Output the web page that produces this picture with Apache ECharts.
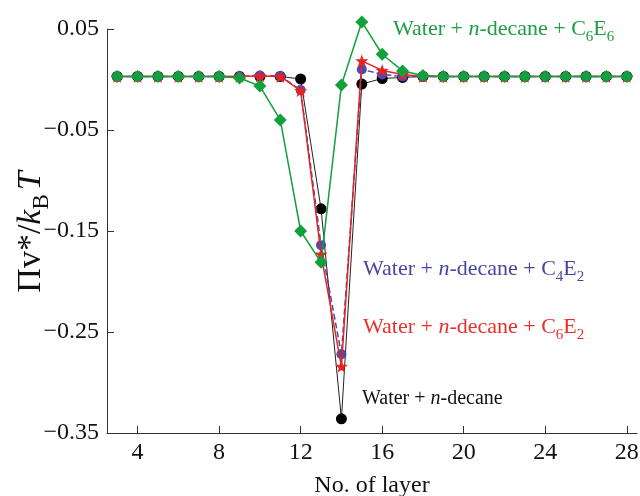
<!DOCTYPE html>
<html><head><meta charset="utf-8">
<script src="https://cdn.jsdelivr.net/npm/echarts@6/dist/echarts.min.js"></script>
<style>html,body{margin:0;padding:0;background:#fff}#c{width:640px;height:496px}</style>
</head><body><div id="c"></div>
<script>
const layers = [3,4,5,6,7,8,9,10,11,12,13,14,15,16,17,18,19,20,21,22,23,24,25,26,27,28];
const waterDecane = [0.003,0.003,0.003,0.003,0.003,0.003,0.003,0.003,0.003,0.0005,-0.128,-0.336,-0.0045,0.001,0.002,0.003,0.003,0.003,0.003,0.003,0.003,0.003,0.003,0.003,0.003,0.003];
const c4e2 = [0.003,0.003,0.003,0.003,0.003,0.003,0.003,0.004,0.0035,-0.0105,-0.164,-0.272,0.010,0.005,0.003,0.003,0.003,0.003,0.003,0.003,0.003,0.003,0.003,0.003,0.003,0.003];
const c6e2 = [0.003,0.003,0.003,0.003,0.003,0.003,0.003,0.0035,0.003,-0.011,-0.173,-0.284,0.0185,0.009,0.005,0.003,0.003,0.003,0.003,0.003,0.003,0.003,0.003,0.003,0.003,0.003];
const c6e6 = [0.003,0.003,0.003,0.003,0.003,0.003,0.0015,-0.0065,-0.040,-0.150,-0.181,-0.0055,0.057,0.025,0.0085,0.004,0.003,0.003,0.003,0.003,0.003,0.003,0.003,0.003,0.003,0.003];
const xTicks = [4,8,12,16,20,24,28];

const serif = '"Liberation Serif","DejaVu Serif",serif';
const pair = (arr) => layers.map((l,i)=>[l,arr[i]]);
const richFor = (color, size) => ({
  r: {fontFamily: serif, fontSize: size, fill: color, lineHeight: size+10, verticalAlign: 'middle'},
  i: {fontFamily: serif, fontSize: size, fill: color, fontStyle: 'italic', lineHeight: size+10, verticalAlign: 'middle'},
  s: {fontFamily: serif, fontSize: Math.round(size*0.68), fill: color, lineHeight: size+10, verticalAlign: 'bottom'}
});
function lbl(text, x, y, color, size) {
  return {type:'text', left: x, top: y, z: 100, style: {text: text, rich: richFor(color, size), fill: color, font: size+'px '+serif}};
}

const chart = echarts.init(document.getElementById('c'), null, {renderer:'canvas'});
const axisCol = '#333';
const yRich = richFor('#111', 34);
yRich.sp = {fontFamily: serif, fontSize: 34, width: 4};
chart.setOption({
  animation: false,
  backgroundColor: '#fff',
  grid: {left: 107, right: 3, top: 29, bottom: 63, outerBoundsMode: 'none'},
  xAxis: {
    type: 'value', min: 2.5, max: 28.5,
    name: 'No. of layer', nameLocation: 'middle', nameGap: 41,
    nameTextStyle: {fontFamily: serif, fontSize: 24, color: '#111'},
    axisLine: {show: true, onZero: false, lineStyle: {color: axisCol, width: 1}},
    axisTick: {show: true, inside: true, length: 7, customValues: xTicks, lineStyle: {color: axisCol}},
    axisLabel: {customValues: xTicks, fontFamily: serif, fontSize: 24, color: '#111', margin: 8},
    splitLine: {show: false}
  },
  yAxis: {
    type: 'value', min: -0.35, max: 0.05, interval: 0.1,
    axisLine: {show: true, onZero: false, lineStyle: {color: axisCol, width: 1}},
    axisTick: {show: true, inside: true, length: 7, lineStyle: {color: axisCol}},
    axisLabel: {fontFamily: serif, fontSize: 24, color: '#111', margin: 8,
      formatter: v => (v < 0 ? '\u2212' : '') + Math.abs(v).toFixed(2)},
    splitLine: {show: false}
  },
  series: [
    {type:'line', data: pair(waterDecane), clip: false, symbol: 'circle', symbolSize: 11,
     itemStyle: {color: '#000'}, lineStyle: {color: '#222', width: 1}, z: 2},
    {type:'line', data: pair(c4e2), clip: false, symbol: 'circle', symbolSize: 10,
     itemStyle: {color: '#4a4ab4'}, lineStyle: {color: '#4a4ab4', width: 1.5, type: [6,3]}, z: 3},
    {type:'line', data: pair(c6e2), clip: false, symbol: 'path://M0,-10 L2.35,-3.24 L9.51,-3.09 L3.80,1.24 L5.88,8.09 L0,4 L-5.88,8.09 L-3.80,1.24 L-9.51,-3.09 L-2.35,-3.24 Z', symbolSize: 13,
     itemStyle: {color: '#e8231f'}, lineStyle: {color: '#e8231f', width: 1.5}, z: 4},
    {type:'line', data: pair(c6e6), clip: false, symbol: 'diamond', symbolSize: 13,
     itemStyle: {color: '#12a03c'}, lineStyle: {color: '#12a03c', width: 1.5}, z: 5}
  ],
  graphic: [
    lbl('{r|Water + }{i|n}{r|-decane + C}{s|6}{r|E}{s|6}', 393, 18, '#1b9e44', 22),
    lbl('{r|Water + }{i|n}{r|-decane + C}{s|4}{r|E}{s|2}', 363, 258, '#4646a6', 22),
    lbl('{r|Water + }{i|n}{r|-decane + C}{s|6}{r|E}{s|2}', 363, 316, '#e8302a', 22),
    lbl('{r|Water + }{i|n}{r|-decane}', 362, 389, '#111', 20),
    {type:'text', x: 31, y: 232, rotation: Math.PI/2, z: 100,
     style: {text: '{r|\u03A0v*/}{i|k}{s|B}{sp|}{i|T}', rich: yRich, align: 'center', verticalAlign: 'middle', fill: '#111', font: '34px '+serif}}
  ]
});
</script></body></html>
